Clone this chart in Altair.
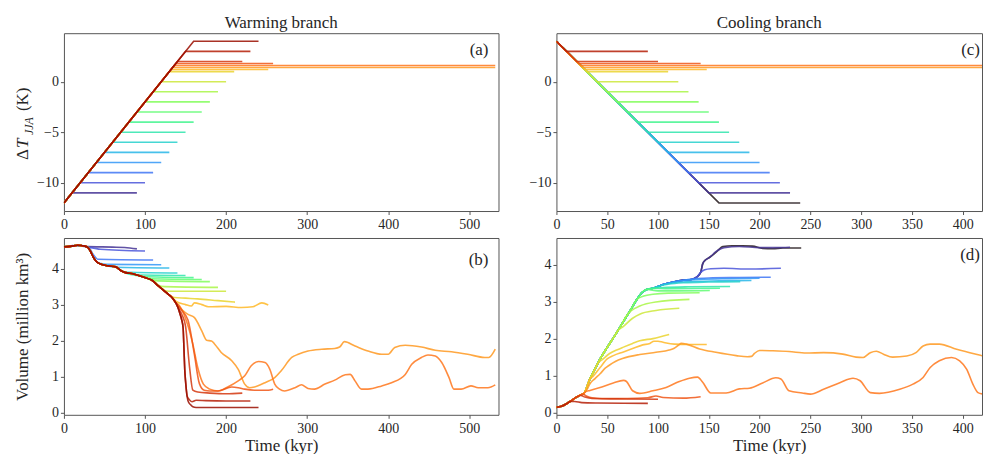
import altair as alt
import pandas as pd

FONT = "Liberation Serif"
TXT = "#262626"
FRAME = "#555555"

# ---------------- forcing levels (colour order) ----------------
LEVELS = [-12, -11, -10, -9, -8, -7, -6, -5, -4, -3, -2, -1, 0, 1.0, 1.2, 1.4, 1.6, 1.8, 2, 3, 4]

# warming branch: ramp -12 K -> +4 K at 0.1 K/kyr, runs held at level T
WARM_T = [-11, -10, -9, -8, -7, -6, -5, -4, -3, -2, -1, 0, 1.0, 1.2, 1.4, 1.6, 1.8, 2, 3, 4]
WARM_END = [90, 100, 110, 120, 130, 140, 150, 160, 170, 180, 190, 200, 210, 252, 532, 532, 258, 220, 230, 240]
# cooling branch: ramp +4 K -> -12 K
COOL_T = [-12, -11, -10, -9, -8, -7, -6, -5, -4, -3, -2, -1, 0, 1.0, 1.2, 1.4, 1.6, 1.8, 2, 3]
COOL_END = [240, 230, 220, 210, 200, 190, 180, 170, 160, 150, 140, 130, 120, 110, 148, 420, 420, 142, 100, 90]

# ---------------- panel (b): warming-branch ice volume ----------------
WB_BASE_T = [0, 8, 17, 25, 29, 33, 36, 40, 45, 54, 64, 70, 76, 85, 95, 103, 109, 116, 122, 128, 134, 138,
             141, 143, 145, 147, 148, 149, 151, 153, 156, 159, 163, 200, 240]
WB_BASE_V = [4.61, 4.62, 4.65, 4.63, 4.60, 4.47, 4.33, 4.20, 4.13, 4.08, 4.05, 3.95, 3.89, 3.86, 3.79, 3.73,
             3.67, 3.53, 3.42, 3.30, 3.18, 3.05, 2.90, 2.75, 2.60, 2.35, 1.80, 1.20, 0.62, 0.33, 0.22, 0.16,
             0.14, 0.14, 0.14]

WB_M11_T = [10, 25, 60, 75, 90]
WB_M11_V = [4.64, 4.62, 4.60, 4.59, 4.55]
WB_M10_T = [20, 30, 45, 100]
WB_M10_V = [4.65, 4.60, 4.54, 4.49]
WB_M9_T = [30, 36, 42, 110]
WB_M9_V = [4.60, 4.40, 4.26, 4.24]
WB_M8_T = [40, 46, 52, 120]
WB_M8_V = [4.20, 4.14, 4.12, 4.11]
WB_M7_T = [50, 56, 62, 130]
WB_M7_V = [4.10, 4.07, 4.04, 4.02]
WB_M6_T = [60, 66, 72, 80, 140]
WB_M6_V = [4.06, 4.02, 3.93, 3.90, 3.88]
WB_M5_T = [70, 76, 84, 150]
WB_M5_V = [3.95, 3.88, 3.83, 3.81]
WB_M4_T = [80, 88, 96, 160]
WB_M4_V = [3.88, 3.82, 3.78, 3.75]
WB_M3_T = [90, 98, 108, 170]
WB_M3_V = [3.83, 3.77, 3.72, 3.70]
WB_M2_T = [100, 108, 116, 180]
WB_M2_V = [3.75, 3.69, 3.66, 3.64]
WB_M1_T = [110, 116, 124, 190]
WB_M1_V = [3.67, 3.55, 3.50, 3.48]
WB_0_T = [120, 126, 134, 200]
WB_0_V = [3.47, 3.38, 3.37, 3.37]
WB_10_T = [130, 136, 150, 165, 190, 211]
WB_10_V = [3.27, 3.20, 3.18, 3.16, 3.11, 3.07]
WB_12_T = [132, 138, 150, 157, 161, 170, 178, 200, 219, 233, 244, 252]
WB_12_V = [3.24, 3.10, 3.00, 2.96, 3.05, 3.00, 2.94, 2.95, 2.92, 2.94, 3.05, 2.99]
WB_14_T = [134, 140, 146, 153, 161, 170, 176, 182, 186, 194, 207, 215, 223, 229, 235, 248, 260, 268, 281,
           289, 301, 318, 334, 340, 346, 359, 375, 392, 400, 408, 421, 441, 458, 478, 498, 519, 524, 532]
WB_14_V = [3.18, 3.00, 2.85, 2.73, 2.64, 2.27, 2.01, 1.99, 1.90, 1.67, 1.44, 1.20, 0.79, 0.69, 0.71, 0.83,
           0.97, 1.16, 1.53, 1.62, 1.71, 1.76, 1.78, 1.82, 1.97, 1.85, 1.71, 1.62, 1.62, 1.81, 1.87, 1.82,
           1.73, 1.69, 1.62, 1.53, 1.53, 1.76]
WB_16_T = [136, 143, 151, 159, 165, 172, 180, 190, 202, 215, 223, 231, 240, 248, 254, 260, 266, 272, 285,
           293, 301, 309, 322, 334, 347, 353, 359, 367, 375, 392, 404, 421, 429, 441, 449, 458, 466, 475,
           481, 490, 502, 511, 523, 532]
WB_16_V = [3.10, 2.95, 2.55, 1.90, 1.25, 0.79, 0.65, 0.60, 0.71, 0.88, 1.02, 1.30, 1.42, 1.39, 1.20, 0.79,
           0.65, 0.60, 0.69, 0.77, 0.67, 0.65, 0.79, 0.90, 1.05, 1.06, 0.88, 0.65, 0.65, 0.74, 0.83, 1.06,
           1.34, 1.53, 1.60, 1.57, 1.39, 0.97, 0.65, 0.65, 0.74, 0.69, 0.69, 0.77]
WB_18_T = [138, 145, 153, 161, 167, 173, 180, 190, 207, 215, 223, 235, 252, 258]
WB_18_V = [3.05, 2.85, 2.57, 1.60, 0.81, 0.62, 0.60, 0.60, 0.71, 0.69, 0.65, 0.62, 0.62, 0.65]
WB_2_T = [140, 146, 150, 155, 159, 165, 180, 200, 220]
WB_2_V = [2.95, 2.70, 2.40, 1.25, 0.62, 0.57, 0.54, 0.52, 0.54]
WB_3_T = [150, 152, 155, 158, 163, 175, 200, 230]
WB_3_V = [0.90, 0.45, 0.35, 0.30, 0.34, 0.33, 0.32, 0.32]

# ---------------- panel (d): cooling-branch ice volume ----------------
CB_BASE_T = [0, 5, 10, 15, 20, 24, 27, 33, 38, 43, 49, 57, 65, 72, 79, 84, 89, 95, 105, 115, 125, 133,
             138, 142, 144, 147, 151, 157, 164, 173, 183, 193, 203, 213, 223, 241]
CB_BASE_V = [0.14, 0.17, 0.24, 0.33, 0.42, 0.48, 0.52, 0.91, 1.18, 1.45, 1.72, 2.06, 2.42, 2.73, 3.05, 3.24,
             3.33, 3.36, 3.46, 3.53, 3.58, 3.60, 3.66, 3.79, 4.02, 4.13, 4.20, 4.33, 4.49, 4.51, 4.51, 4.50,
             4.44, 4.43, 4.45, 4.45]

CB_M11_T = [157, 165, 180, 200, 215, 230]
CB_M11_V = [4.35, 4.46, 4.49, 4.46, 4.46, 4.47]
CB_M10_T = [142, 146, 152, 165, 190, 221]
CB_M10_V = [3.79, 3.86, 3.89, 3.90, 3.88, 3.90]
CB_M9_T = [125, 135, 150, 180, 211]
CB_M9_V = [3.58, 3.62, 3.64, 3.65, 3.66]
CB_M8_T = [115, 125, 140, 170, 200]
CB_M8_V = [3.53, 3.57, 3.60, 3.62, 3.63]
CB_M7_T = [105, 115, 130, 160, 192]
CB_M7_V = [3.46, 3.51, 3.54, 3.56, 3.57]
CB_M6_T = [100, 110, 125, 150, 181]
CB_M6_V = [3.41, 3.47, 3.51, 3.53, 3.54]
CB_M5_T = [95, 105, 130, 171]
CB_M5_V = [3.36, 3.38, 3.40, 3.41]
CB_M4_T = [95, 110, 161]
CB_M4_V = [3.36, 3.35, 3.36]
CB_M3_T = [89, 100, 120, 151]
CB_M3_V = [3.33, 3.29, 3.29, 3.30]
CB_M2_T = [79, 86, 95, 110, 141]
CB_M2_V = [3.05, 3.15, 3.20, 3.23, 3.24]
CB_M1_T = [68, 74, 82, 98, 131]
CB_M1_V = [2.58, 2.76, 2.88, 2.99, 3.06]
CB_0_T = [60, 66, 75, 82, 98, 121]
CB_0_V = [2.20, 2.33, 2.55, 2.66, 2.76, 2.82]
CB_10_T = [40, 46, 52, 60, 66, 75, 82, 95, 111]
CB_10_V = [1.30, 1.45, 1.59, 1.70, 1.77, 1.87, 1.94, 2.00, 2.11]
CB_12_T = [36, 43, 50, 56, 66, 75, 85, 92, 96, 100, 105, 116, 130, 148]
CB_12_V = [0.98, 1.22, 1.45, 1.54, 1.64, 1.73, 1.83, 1.87, 1.93, 1.93, 1.90, 1.85, 1.84, 1.84]
CB_14_T = [30, 33, 38, 43, 48, 52, 58, 65, 82, 98, 111, 116, 120, 123, 128, 141, 157, 177, 188, 192, 195,
           200, 213, 229, 246, 263, 282, 295, 302, 309, 315, 322, 331, 345, 354, 361, 368, 377, 394, 407, 420]
CB_14_V = [0.62, 0.78, 0.92, 1.05, 1.20, 1.28, 1.38, 1.46, 1.57, 1.63, 1.69, 1.74, 1.82, 1.87, 1.85, 1.72,
           1.63, 1.54, 1.51, 1.52, 1.60, 1.68, 1.67, 1.65, 1.61, 1.62, 1.58, 1.50, 1.49, 1.62, 1.66, 1.58,
           1.50, 1.53, 1.62, 1.80, 1.85, 1.85, 1.71, 1.62, 1.53]
CB_16_T = [28, 33, 43, 56, 66, 69, 75, 82, 95, 108, 121, 131, 139, 144, 152, 167, 180, 190, 203, 216, 221,
           229, 242, 250, 263, 279, 292, 299, 309, 318, 338, 351, 361, 368, 377, 389, 397, 404, 410, 415, 420]
CB_16_V = [0.55, 0.60, 0.68, 0.80, 0.87, 0.84, 0.59, 0.52, 0.59, 0.68, 0.84, 0.93, 0.96, 0.82, 0.53, 0.53,
           0.64, 0.66, 0.80, 0.94, 0.91, 0.59, 0.53, 0.50, 0.63, 0.81, 0.93, 0.86, 0.54, 0.52, 0.63, 0.77,
           0.95, 1.22, 1.40, 1.49, 1.40, 1.17, 0.77, 0.54, 0.50]
CB_18_T = [26, 30, 35, 45, 70, 90, 98, 105, 125, 142]
CB_18_V = [0.50, 0.44, 0.40, 0.38, 0.38, 0.40, 0.45, 0.41, 0.39, 0.43]
CB_2_T = [20, 24, 28, 35, 60, 100]
CB_2_V = [0.42, 0.46, 0.42, 0.38, 0.37, 0.36]
CB_3_T = [10, 14, 18, 25, 40, 90]
CB_3_V = [0.24, 0.30, 0.30, 0.27, 0.26, 0.25]

WB_RUNS = {-11: (WB_M11_T, WB_M11_V), -10: (WB_M10_T, WB_M10_V), -9: (WB_M9_T, WB_M9_V),
           -8: (WB_M8_T, WB_M8_V), -7: (WB_M7_T, WB_M7_V), -6: (WB_M6_T, WB_M6_V), -5: (WB_M5_T, WB_M5_V),
           -4: (WB_M4_T, WB_M4_V), -3: (WB_M3_T, WB_M3_V), -2: (WB_M2_T, WB_M2_V), -1: (WB_M1_T, WB_M1_V),
           0: (WB_0_T, WB_0_V), 1.0: (WB_10_T, WB_10_V), 1.2: (WB_12_T, WB_12_V), 1.4: (WB_14_T, WB_14_V),
           1.6: (WB_16_T, WB_16_V), 1.8: (WB_18_T, WB_18_V), 2: (WB_2_T, WB_2_V), 3: (WB_3_T, WB_3_V),
           4: ([], [])}
CB_RUNS = {-12: ([], []), -11: (CB_M11_T, CB_M11_V), -10: (CB_M10_T, CB_M10_V), -9: (CB_M9_T, CB_M9_V),
           -8: (CB_M8_T, CB_M8_V), -7: (CB_M7_T, CB_M7_V), -6: (CB_M6_T, CB_M6_V), -5: (CB_M5_T, CB_M5_V),
           -4: (CB_M4_T, CB_M4_V), -3: (CB_M3_T, CB_M3_V), -2: (CB_M2_T, CB_M2_V), -1: (CB_M1_T, CB_M1_V),
           0: (CB_0_T, CB_0_V), 1.0: (CB_10_T, CB_10_V), 1.2: (CB_12_T, CB_12_V), 1.4: (CB_14_T, CB_14_V),
           1.6: (CB_16_T, CB_16_V), 1.8: (CB_18_T, CB_18_V), 2: (CB_2_T, CB_2_V), 3: (CB_3_T, CB_3_V)}


# ---------------- colours (turbo colormap) ----------------
def turbo_hex(x):
    r = 0.13572138 + x * (4.61539260 + x * (-42.66032258 + x * (132.13108234 + x * (-152.94239396 + x * 59.28637943))))
    g = 0.09140261 + x * (2.19418839 + x * (4.84296658 + x * (-14.18503333 + x * (4.27729857 + x * 2.82956604))))
    b = 0.10667330 + x * (12.64194608 + x * (-60.58204836 + x * (110.36276771 + x * (-89.90310912 + x * 27.34824973))))
    c = [max(0, min(255, round(255 * v))) for v in (r, g, b)]
    return "#%02x%02x%02x" % tuple(c)


COLORS = {T: turbo_hex(i / len(LEVELS)) for i, T in enumerate(LEVELS)}


def path_from_base(base_t, base_v, own_t, own_v):
    if not own_t:
        return list(base_t), list(base_v)
    ts = [t for t in base_t if t < own_t[0]] + list(own_t)
    vs = [v for t, v in zip(base_t, base_v) if t < own_t[0]] + list(own_v)
    return ts, vs


def forcing_path(T, end, start, rate):
    branch = (T - start) / rate
    return [0, branch, end], [start, T, T]


def text_mark(s, x, y, size=17, align="center", baseline="alphabetic", angle=None, style="normal"):
    kw = dict(font=FONT, fontSize=size, fontStyle=style, color=TXT, align=align, baseline=baseline)
    if angle is not None:
        kw["angle"] = angle
    return alt.Chart(pd.DataFrame({"s": [s]})).mark_text(**kw).encode(
        x=alt.value(x), y=alt.value(y), text="s:N")


def panel(paths, xdom, ydom, xvals, yvals, w, h, xtitle=None, ytitle=None, interp="linear", label="",
          label_xy=(0, 0), title=None, extra=()):
    xs = alt.Scale(domain=xdom, nice=False, zero=False)
    ys = alt.Scale(domain=ydom, nice=False, zero=False)
    xa = alt.Axis(values=xvals, labelPadding=3.5, titleBaseline="alphabetic", titleY=36, labelFlush=False,
                  grid=False, domain=False)
    ya = alt.Axis(values=yvals, labelPadding=2, titleBaseline="alphabetic", titleX=-36, labelFlush=False,
                  grid=False, domain=False)
    layers = []
    for T, ts, vs in paths:
        df = pd.DataFrame({"t": ts, "v": vs})
        layers.append(
            alt.Chart(df).mark_line(color=COLORS[T], opacity=0.85, strokeWidth=1.6, clip=True,
                                    interpolate=interp).encode(
                x=alt.X("t:Q", scale=xs, axis=xa, title=xtitle),
                y=alt.Y("v:Q", scale=ys, axis=ya, title=ytitle),
            )
        )
    layers.append(text_mark(label, label_xy[0], label_xy[1], align="right", baseline="middle"))
    if title:
        layers.append(text_mark(title, w / 2, -5))
    layers.extend(extra)
    return alt.layer(*layers).properties(width=w, height=h)


# ---------------- assemble ----------------
a_paths = []
for T, e in zip(WARM_T, WARM_END):
    ts, vs = forcing_path(T, e, -12, 0.1)
    a_paths.append((T, ts, vs))
c_paths = []
for T, e in zip(COOL_T, COOL_END):
    ts, vs = forcing_path(T, e, 4, -0.1)
    c_paths.append((T, ts, vs))
b_paths = []
for T in WARM_T:
    ts, vs = path_from_base(WB_BASE_T, WB_BASE_V, *WB_RUNS[T])
    b_paths.append((T, ts, vs))
d_paths = []
for T in COOL_T:
    ts, vs = path_from_base(CB_BASE_T, CB_BASE_V, *CB_RUNS[T])
    d_paths.append((T, ts, vs))

ylabel_a = [
    text_mark("Δ", -36, 127, align="left", angle=270),
    text_mark("T", -36, 115, align="left", angle=270, style="italic"),
    text_mark("JJA", -31, 102, size=12, align="left", angle=270, style="italic"),
    text_mark("(K)", -36, 78, align="left", angle=270),
]

WIDTH_L, WIDTH_R, H_TOP, H_BOT = 435, 426, 178, 177

pa = panel(a_paths, [0, 536], [-12.8, 4.8], [0, 100, 200, 300, 400, 500], [-10, -5, 0], WIDTH_L, H_TOP,
           label="(a)", label_xy=(425, 17), title="Warming branch", extra=ylabel_a)
pb = panel(b_paths, [0, 536], [-0.064, 4.853], [0, 100, 200, 300, 400, 500], [0, 1, 2, 3, 4], WIDTH_L, H_BOT,
           xtitle="Time (kyr)", ytitle="Volume (million km³)", interp="monotone", label="(b)",
           label_xy=(425, 22))
pc = panel(c_paths, [0, 419], [-12.8, 4.8], [0, 50, 100, 150, 200, 250, 300, 350, 400], [-10, -5, 0],
           WIDTH_R, H_TOP, label="(c)", label_xy=(424, 17), title="Cooling branch")
pd_ = panel(d_paths, [0, 419], [-0.06, 4.72], [0, 50, 100, 150, 200, 250, 300, 350, 400], [0, 1, 2, 3, 4],
            WIDTH_R, H_BOT, xtitle="Time (kyr)", interp="monotone", label="(d)", label_xy=(424, 17))

chart = alt.concat(pa, pc, pb, pd_, columns=2, spacing={"row": 27, "column": 58}, bounds="flush").properties(
    padding={"left": 13, "top": 13, "right": 0, "bottom": 0}
).configure_view(stroke=FRAME, strokeWidth=1).configure_axis(
    domain=False, grid=False, ticks=True, tickSize=3.5, tickColor=FRAME, tickWidth=1,
    labelFont=FONT, labelFontSize=14, labelColor=TXT,
    titleFont=FONT, titleFontSize=17, titleColor=TXT, titleFontWeight="normal"
)

chart.save("out.html", embed_options={"renderer": "svg", "actions": False})
